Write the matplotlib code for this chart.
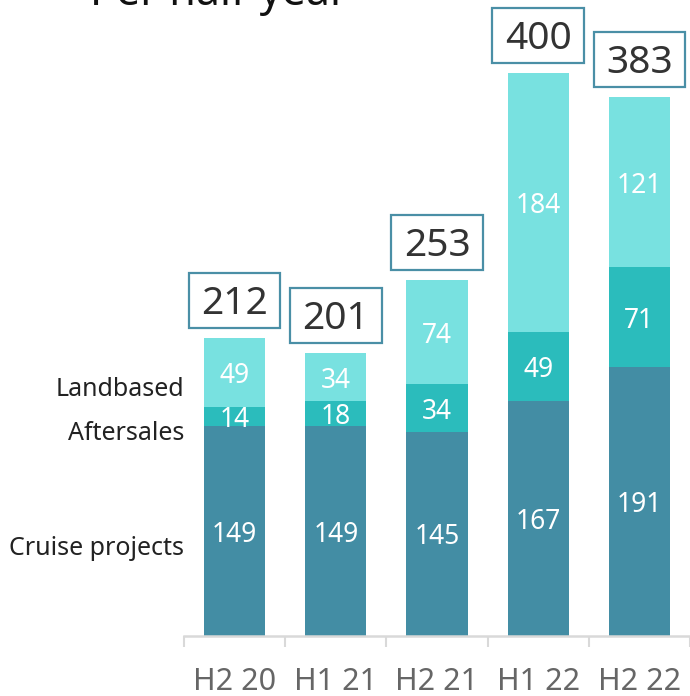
import numpy as np
import matplotlib.pyplot as plt
from matplotlib.patches import Rectangle

periods = ['H2 20', 'H1 21', 'H2 21', 'H1 22', 'H2 22']
cruise = [149, 149, 145, 167, 191]
aftersales = [14, 18, 34, 49, 71]
landbased = [49, 34, 74, 184, 121]
totals = [212, 201, 253, 400, 383]
series_names = ['Cruise projects', 'Aftersales', 'Landbased']
colors = ['#438da4', '#2bbcbc', '#78e1e0']

plt.rcParams['font.family'] = ['Noto Sans', 'DejaVu Sans']

W, H = 690, 696
fig = plt.figure(figsize=(W / 100, H / 100), dpi=100)

# layout in pixels
x0_px, base_px, step_px = 184, 636, 101.6
px_per_unit = 1.4068
ax = fig.add_axes([x0_px / W, (H - base_px) / H, 1 - x0_px / W, base_px / H])

x = np.arange(len(periods))
width = 0.605
bottom = np.zeros(len(periods))
for vals, col in zip([cruise, aftersales, landbased], colors):
    vals = np.array(vals)
    ax.bar(x, vals, width, bottom=bottom, color=col, edgecolor='none')
    for xi, b, v in zip(x, bottom, vals):
        ax.annotate(f'{v}', (xi, b + v / 2), xytext=(0, -2.5),
                    textcoords='offset points', ha='center', va='center',
                    color='white', fontsize=19)
    bottom = bottom + vals

# total boxes above each bar
box_w = 92 / step_px
box_h = 55 / px_per_unit
gap = 10 / px_per_unit
for xi, t in zip(x, totals):
    ax.add_patch(Rectangle((xi - box_w / 2, t + gap), box_w, box_h,
                           facecolor='white', edgecolor='#4a8fa6',
                           linewidth=1.6, clip_on=False, zorder=3))
    ax.annotate(f'{t}', (xi, t + gap + box_h / 2), xytext=(0, -2.5),
                textcoords='offset points', ha='center', va='center',
                color='#333333', fontsize=28, zorder=4, annotation_clip=False)

# series labels left of first bar
mids = [cruise[0] / 2, cruise[0] + aftersales[0] / 2,
        cruise[0] + aftersales[0] + landbased[0] / 2]
for name, m in zip(series_names, mids):
    ax.text(-0.5, m - 12, name, ha='right', va='center', color='#222222',
            fontsize=18, clip_on=False)

ax.set_xlim(-0.5, (W - x0_px) / step_px - 0.5)
ax.set_ylim(0, base_px / px_per_unit)
ax.set_xticks(x)
ax.set_xticklabels(periods, fontsize=22, color='#666666')
ax.set_xticks(np.arange(len(periods) + 1) - 0.5, minor=True)
ax.tick_params(axis='x', which='major', length=0, pad=22)
ax.tick_params(axis='x', which='minor', length=8, width=1.5, color='#d9d9d9')
ax.set_yticks([])
for s in ['top', 'right', 'left']:
    ax.spines[s].set_visible(False)
ax.spines['bottom'].set_color('#d9d9d9')
ax.spines['bottom'].set_linewidth(1.8)
ax.patch.set_alpha(0)

fig.text(90 / W, 1 - 5 / H, 'Per half-year', ha='left', va='baseline',
         fontsize=31, color='#111111')

fig.savefig('out.png', dpi=100)
